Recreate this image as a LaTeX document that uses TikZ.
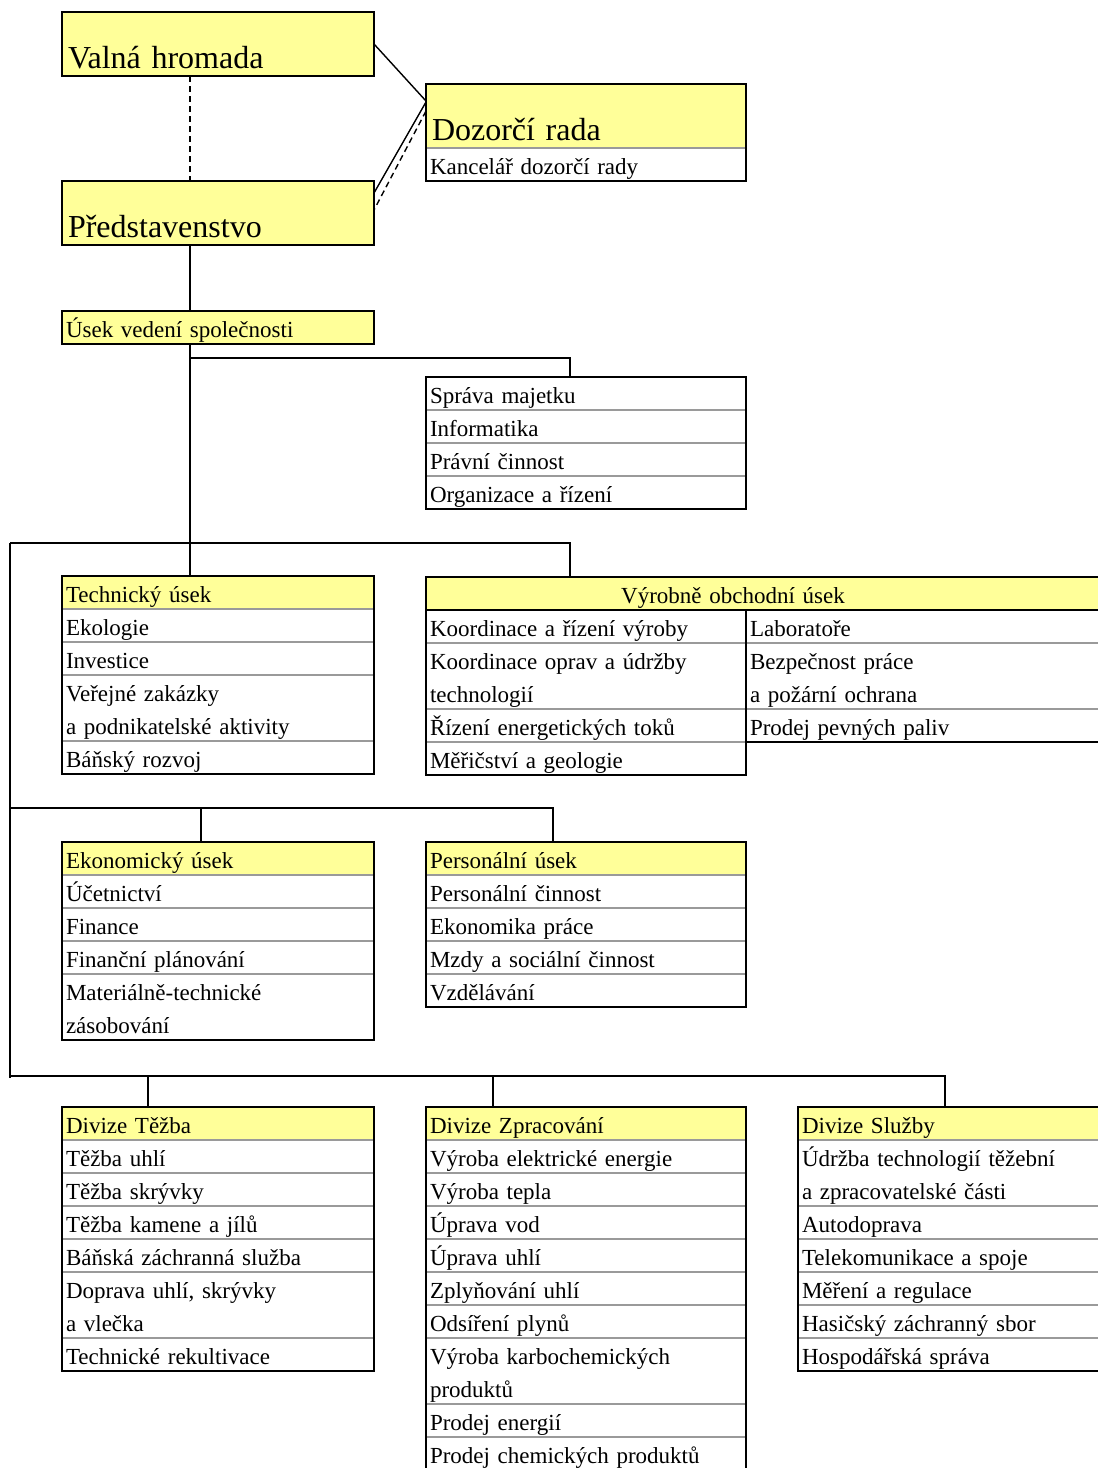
\documentclass[tikz,border=0pt]{standalone}
\usepackage{fontspec}
\setmainfont{Liberation Serif}
\usetikzlibrary{positioning}
\definecolor{hdryellow}{HTML}{FFFF99}
\definecolor{rowgrey}{HTML}{9A9A9A}

\begin{document}
\begin{tikzpicture}[
    x=1pt, y=-1pt,
    node distance=0pt,
    outer sep=0pt,
    cell/.style={anchor=north west, inner xsep=4pt, inner ysep=0pt,
      text height=26pt, text depth=7pt, align=left,
      font=\fontsize{23}{33}\selectfont},
    cellL/.style={cell, text width=304pt},
    cellM/.style={cell, text width=312pt},
    cellW/.style={cell, text width=356pt},
    tall/.style={text depth=40pt},
    row/.style={append after command={
        (\tikzlastnode.north west) edge[sep] (\tikzlastnode.north east)}},
    sep/.style={draw=rowgrey, line width=2pt},
    hdr/.style={fill=hdryellow, draw=black, line width=2.4pt},
    bighdr/.style={cell, fill=hdryellow, inner xsep=6pt,
      text height=56pt, text depth=8pt,
      font=\fontsize{32}{38}\selectfont},
    frame/.style={draw=black, line width=2.4pt},
    link/.style={draw=black, line width=1.4pt}
  ]
    \useasboundingbox (0,0) rectangle (1098,1468);
    \clip (0,0) rectangle (1098,1468);

    \node[bighdr, text width=300pt] (valna) at (62,12) {Valná hromada};
    \node[bighdr, text width=308pt] (dozorci) at (426,84) {Dozorčí rada};
    \node[cellM, row, below=of dozorci] (kancelar) {Kancelář dozorčí rady};
    \node[bighdr, text width=300pt] (predst) at (62,181) {Představenstvo};
    \node[cellL, hdr] (usek) at (62,311) {Úsek vedení společnosti};

    \node[cellM, row] (sprava) at (426,377) {Správa majetku};
    \node[cellM, row, below=of sprava] (inform) {Informatika};
    \node[cellM, row, below=of inform] (pravni) {Právní činnost};
    \node[cellM, row, below=of pravni] (organ) {Organizace a řízení};

    \node[cellL, hdr] (tech) at (62,576) {Technický úsek};
    \node[cellL, row, below=of tech] (ekol) {Ekologie};
    \node[cellL, row, below=of ekol] (invest) {Investice};
    \node[cellL, row, tall, below=of invest] (zakazky) {Veřejné zakázky\\a podnikatelské aktivity};
    \node[cellL, row, below=of zakazky] (rozvoj) {Báňský rozvoj};

    \node[cell, hdr, text width=676pt] (vyrob) at (426,577) {\makebox[606pt]{Výrobně obchodní úsek}};
    \node[cellM, row] (koord) at (vyrob.south west) {Koordinace a řízení výroby};
    \node[cellM, row, tall, below=of koord] (oprav) {Koordinace oprav a údržby\\technologií};
    \node[cellM, row, below=of oprav] (energ) {Řízení energetických toků};
    \node[cellM, row, below=of energ] (meric) {Měřičství a geologie};
    \node[cellW, row] (labor) at (koord.north east) {Laboratoře};
    \node[cellW, row, tall, below=of labor] (bezp) {Bezpečnost práce\\a požární ochrana};
    \node[cellW, row, below=of bezp] (paliv) {Prodej pevných paliv};

    \node[cellL, hdr] (ekon) at (62,842) {Ekonomický úsek};
    \node[cellL, row, below=of ekon] (ucet) {Účetnictví};
    \node[cellL, row, below=of ucet] (financ) {Finance};
    \node[cellL, row, below=of financ] (planov) {Finanční plánování};
    \node[cellL, row, tall, below=of planov] (zasob) {Materiálně-technické\\zásobování};

    \node[cellM, hdr] (pers) at (426,842) {Personální úsek};
    \node[cellM, row, below=of pers] (pcin) {Personální činnost};
    \node[cellM, row, below=of pcin] (ekprace) {Ekonomika práce};
    \node[cellM, row, below=of ekprace] (mzdy) {Mzdy a sociální činnost};
    \node[cellM, row, below=of mzdy] (vzdel) {Vzdělávání};

    \node[cellL, hdr] (tezba) at (62,1107) {Divize Těžba};
    \node[cellL, row, below=of tezba] (tuhli) {Těžba uhlí};
    \node[cellL, row, below=of tuhli] (tskryv) {Těžba skrývky};
    \node[cellL, row, below=of tskryv] (tkamen) {Těžba kamene a jílů};
    \node[cellL, row, below=of tkamen] (zachran) {Báňská záchranná služba};
    \node[cellL, row, tall, below=of zachran] (doprava) {Doprava uhlí, skrývky\\a vlečka};
    \node[cellL, row, below=of doprava] (rekult) {Technické rekultivace};

    \node[cellM, hdr] (zprac) at (426,1107) {Divize Zpracování};
    \node[cellM, row, below=of zprac] (elekt) {Výroba elektrické energie};
    \node[cellM, row, below=of elekt] (teplo) {Výroba tepla};
    \node[cellM, row, below=of teplo] (uvod) {Úprava vod};
    \node[cellM, row, below=of uvod] (uuhli) {Úprava uhlí};
    \node[cellM, row, below=of uuhli] (zplyn) {Zplyňování uhlí};
    \node[cellM, row, below=of zplyn] (odsir) {Odsíření plynů};
    \node[cellM, row, tall, below=of odsir] (karbo) {Výroba karbochemických\\produktů};
    \node[cellM, row, below=of karbo] (penerg) {Prodej energií};
    \node[cellM, row, below=of penerg] (pchem) {Prodej chemických produktů};

    \node[cellW, hdr] (sluzby) at (798,1107) {Divize Služby};
    \node[cellW, row, tall, below=of sluzby] (udrzba) {Údržba technologií těžební\\a zpracovatelské části};
    \node[cellW, row, below=of udrzba] (autod) {Autodoprava};
    \node[cellW, row, below=of autod] (telek) {Telekomunikace a spoje};
    \node[cellW, row, below=of telek] (mereni) {Měření a regulace};
    \node[cellW, row, below=of mereni] (hasic) {Hasičský záchranný sbor};
    \node[cellW, row, below=of hasic] (hosp) {Hospodářská správa};

    \draw[frame] (valna.north west) rectangle (valna.south east);
    \draw[frame] (dozorci.north west) rectangle (kancelar.south east);
    \draw[frame] (predst.north west) rectangle (predst.south east);
    \draw[frame] (sprava.north west) rectangle (organ.south east);
    \draw[frame] (tech.north west) rectangle (rozvoj.south east);
    \draw[frame] (koord.north west) rectangle (meric.south east);
    \draw[frame] (labor.north west) rectangle (paliv.south east);
    \draw[frame] (ekon.north west) rectangle (zasob.south east);
    \draw[frame] (pers.north west) rectangle (vzdel.south east);
    \draw[frame] (tezba.north west) rectangle (rekult.south east);
    \draw[frame] (zprac.north west) rectangle (pchem.south east);
    \draw[frame] (sluzby.north west) rectangle (hosp.south east);

    \coordinate (trunk) at (190,0);
    \draw[link, dash pattern=on 6pt off 4pt] (valna.south -| trunk) -- (predst.north -| trunk);
    \draw[link] (valna.east) -- ([yshift=15pt]dozorci.west);
    \draw[link] ([yshift=14pt]dozorci.west) -- ([yshift=20pt]predst.east);
    \draw[link, dash pattern=on 6pt off 4pt] ([yshift=5pt]dozorci.west) -- ([yshift=3pt]predst.east);
    \draw[link] (predst.south -| trunk) -- (usek.north -| trunk);
    \draw[link] (usek.south -| trunk) -- (tech.north -| trunk);

    \coordinate (b1) at (570,358);
    \draw[link] (b1 -| trunk) -- (b1) -- (sprava.north -| b1);
    \coordinate (bus) at (10,543);
    \coordinate (busend) at (10,1078);
    \coordinate (b2) at (570,543);
    \draw[link] (bus) -- (b2) -- (vyrob.north -| b2);
    \draw[link] (bus) -- (busend);

    \coordinate (b3) at (553,808);
    \coordinate (b3e) at (201,808);
    \draw[link] (bus |- b3) -- (b3) -- (pers.north -| b3);
    \draw[link] (b3e) -- (ekon.north -| b3e);

    \coordinate (b4) at (945,1076);
    \coordinate (b4t) at (148,1076);
    \coordinate (b4z) at (493,1076);
    \draw[link] (bus |- b4) -- (b4) -- (sluzby.north -| b4);
    \draw[link] (b4t) -- (tezba.north -| b4t);
    \draw[link] (b4z) -- (zprac.north -| b4z);
  \end{tikzpicture}
\end{document}
